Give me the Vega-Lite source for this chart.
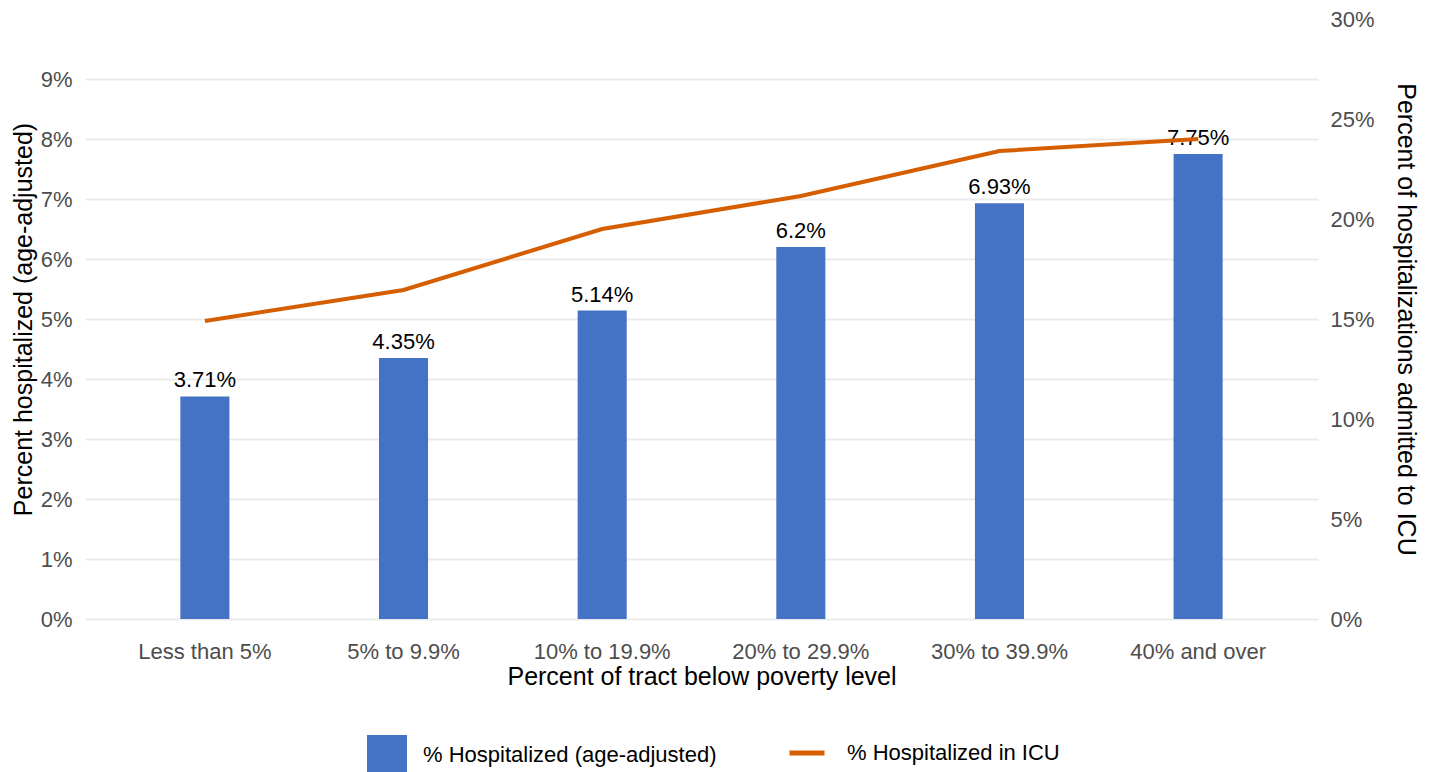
{
  "$schema": "https://vega.github.io/schema/vega-lite/v6.json",
  "autosize": {"type": "none"},
  "padding": {"left": 85, "top": 19, "right": 120, "bottom": 153},
  "width": 1233,
  "height": 600,
  "background": "white",
  "config": {
    "view": {"stroke": null},
    "font": "Liberation Sans",
    "axis": {"labelFont": "Liberation Sans", "titleFont": "Liberation Sans", "labelColor": "#4D4D4D", "titleColor": "#000000", "labelFontSize": 22, "titleFontSize": 25, "titleFontWeight": "normal", "domain": false, "ticks": false},
    "legend": {"labelFont": "Liberation Sans", "labelFontSize": 22, "labelColor": "#000000", "padding": 0, "title": null, "labelLimit": 0}
  },
  "data": {
    "values": [
      {"cat": "Less than 5%", "hosp": 0.0371, "icu": 0.149},
      {"cat": "5% to 9.9%", "hosp": 0.0435, "icu": 0.1645},
      {"cat": "10% to 19.9%", "hosp": 0.0514, "icu": 0.195},
      {"cat": "20% to 29.9%", "hosp": 0.062, "icu": 0.2115},
      {"cat": "30% to 39.9%", "hosp": 0.0693, "icu": 0.234},
      {"cat": "40% and over", "hosp": 0.0775, "icu": 0.240}
    ]
  },
  "encoding": {
    "x": {
      "field": "cat", "type": "nominal", "sort": null,
      "scale": {"paddingInner": 0.753, "paddingOuter": 0.48},
      "axis": {"title": "Percent of tract below poverty level", "labelAngle": 0, "labelPadding": 22, "titlePadding": 2, "grid": false}
    }
  },
  "layer": [
    {
      "layer": [
        {
          "mark": {"type": "bar"},
          "encoding": {
            "y": {"field": "hosp", "type": "quantitative", "scale": {"domain": [0, 0.1], "nice": false},
              "axis": {"title": "Percent hospitalized (age-adjusted)", "format": ".0%", "values": [0, 0.01, 0.02, 0.03, 0.04, 0.05, 0.06, 0.07, 0.08, 0.09], "grid": true, "gridColor": "#EBEBEB", "gridWidth": 2, "labelPadding": 13, "titlePadding": 4}},
            "fill": {"datum": "% Hospitalized (age-adjusted)", "type": "nominal", "scale": {"range": ["#4472C4"]},
              "legend": {"orient": "none", "legendX": 282, "legendY": 716, "symbolType": "square", "symbolSize": 1600, "symbolStrokeWidth": 0, "labelOffset": 16}}
          }
        },
        {
          "mark": {"type": "text", "baseline": "alphabetic", "dy": -9, "fontSize": 22, "color": "#000000", "font": "Liberation Sans"},
          "encoding": {
            "y": {"field": "hosp", "type": "quantitative"},
            "text": {"field": "hosp", "type": "quantitative", "format": ".3~p"}
          }
        }
      ]
    },
    {
      "mark": {"type": "line", "strokeWidth": 4},
      "encoding": {
        "y": {"field": "icu", "type": "quantitative", "scale": {"domain": [0, 0.3], "nice": false},
          "axis": {"orient": "right", "title": "Percent of hospitalizations admitted to ICU", "format": ".0%", "values": [0, 0.05, 0.1, 0.15, 0.2, 0.25, 0.3], "grid": false, "labelPadding": 12, "titlePadding": 18}},
        "stroke": {"datum": "% Hospitalized in ICU", "type": "nominal", "scale": {"range": ["#D55E00"]},
          "legend": {"orient": "none", "legendX": 702, "legendY": 714, "symbolType": "stroke", "symbolSize": 1225, "symbolStrokeWidth": 5, "labelOffset": 20}}
      }
    }
  ],
  "resolve": {"scale": {"y": "independent", "fill": "independent", "stroke": "independent"}}
}
